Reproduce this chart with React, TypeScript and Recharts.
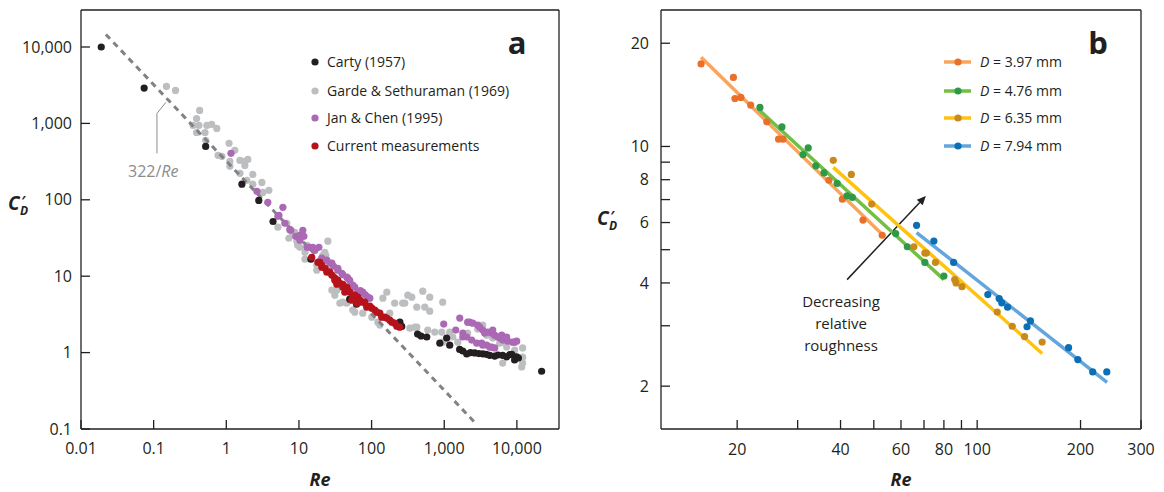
import React from "react";
import { ScatterChart, Scatter, XAxis, YAxis, ReferenceLine } from "recharts";

type Pt = [number, number];

const FONT = "'Open Sans', 'Noto Sans', sans-serif";
const INK = "#231f20";

// panel a: C'D against Re, four data sets
const reTicksA = [0.01, 0.1, 1, 10, 100, 1000, 10000];
const cdTicksA = [0.1, 1, 10, 100, 1000, 10000];

const carty: Pt[] = [
  [0.019, 10000], [0.074, 2900], [0.52, 500], [1.64, 160], [2.8, 98], [4.4, 52], [14.6, 16.7],
  [50, 5.0], [62, 4.3], [245, 2.5], [260, 2.2], [430, 1.75], [480, 1.65], [575, 1.6], [870, 1.33],
  [1080, 1.55], [1190, 1.25], [1630, 1.1], [1800, 1.05], [2040, 0.96], [2300, 1.0], [2630, 0.99],
  [3000, 0.97], [3400, 0.96], [3800, 0.95], [4230, 0.92], [4950, 0.9], [5500, 0.93], [6380, 0.92],
  [7240, 0.88], [8000, 0.94], [8510, 0.95], [9300, 0.8], [9930, 0.88], [10500, 0.85], [21900, 0.57],
];

const garde: Pt[] = [
  [0.15, 3050], [0.2, 2700], [0.43, 1480], [0.39, 1160], [0.35, 940], [0.42, 940], [0.54, 940],
  [0.63, 970], [0.74, 860], [0.39, 760], [0.51, 760], [0.52, 600], [1.09, 550], [1.31, 444],
  [0.77, 382], [0.87, 371], [1.12, 318], [1.12, 274], [1.54, 328], [1.8, 318], [1.98, 338],
  [1.8, 282], [1.54, 222], [2.32, 215], [1.92, 180], [3.09, 169], [2.32, 160], [3.86, 133],
  [3.19, 125], [5.13, 43.8], [6.8, 49], [7.5, 40], [8.8, 37.6], [8.2, 34.3], [7.26, 31.4],
  [9.35, 28.7], [9.6, 25.4], [10.3, 23.9], [25, 28.7], [12.9, 25.4], [12.1, 20.5], [12.1, 16.7],
  [17.6, 12], [17.6, 13.9], [23.4, 18.8], [22.7, 20.5], [21.3, 18.8], [19.4, 14.9], [28.4, 6.56],
  [31.2, 5.64], [33.2, 6.56], [36.6, 4.43], [45.6, 4.43], [40.2, 4.57], [55, 3.6], [58.7, 3.38],
  [75.6, 3.28], [100.7, 2.91], [122, 2.5], [130, 2.29], [143, 5.15], [162, 6.18], [178, 3.28],
  [208, 4.43], [268, 4.43], [286, 4.43], [315, 5.65], [357, 5.31], [419, 3.93], [506, 6.37],
  [632, 5.31], [540, 3.93], [632, 3.49], [953, 4.57], [336, 2.09], [393, 2.15], [419, 2.15],
  [593, 1.97], [740, 1.85], [924, 1.85], [953, 1.37], [1190, 1.85], [1310, 1.6], [1535, 1.37],
  [2100, 1.8], [2890, 2.03], [3390, 2.29], [3850, 1.69], [4650, 1.55], [5800, 1.33], [6380, 1.37],
  [7240, 1.18], [9330, 1.08], [12000, 1.15], [12000, 0.87], [12000, 0.73], [11650, 0.65], [6380, 0.73],
];

const janChen: Pt[] = [
  [1.16, 406], [2.64, 129], [3.73, 92.7], [5.13, 60.8], [6.01, 79.8], [5.3, 62.7], [6.4, 49.3],
  [7.5, 41.1], [9.06, 33.3], [7.74, 39.9], [10.3, 34.3], [11.3, 39.9], [11.7, 33.3], [10.3, 29.6],
  [12.9, 23.9], [15.5, 23.9], [18.8, 23.9], [14.1, 23.9], [16.6, 21.9], [20.6, 17.2], [24.2, 16.2],
  [26.6, 14.8], [28.4, 14.8], [30, 13.5], [34.3, 12.7], [34.3, 12], [38.9, 10.9], [40, 10.5],
  [45.6, 9.7], [47.1, 9.42], [50, 8.8], [55.1, 7.62], [58.7, 7.18], [64.6, 6.18], [70, 6.5],
  [75.6, 6.18], [75.6, 6.0], [82, 5.7], [88.8, 5.31], [94.5, 5.15],
  [984, 2.36], [1635, 2.83], [1440, 1.97], [1800, 1.8], [2100, 2.5], [2240, 2.5], [2470, 2.43],
  [2890, 2.29], [3080, 2.15], [3390, 1.97], [3970, 1.85], [4500, 1.8], [4650, 1.97], [4950, 1.69],
  [5450, 1.6], [5800, 1.55], [6380, 1.6], [6380, 1.46], [7470, 1.41], [8750, 1.37], [9330, 1.37],
  [9930, 1.41], [1800, 1.6], [2040, 1.6], [2390, 1.46], [2800, 1.33], [3280, 1.33], [3390, 1.25],
  [3850, 1.25], [4230, 1.18], [4500, 1.18], [4950, 1.15], [3600, 1.8], [6180, 1.69], [7240, 1.6],
];

const current: Pt[] = [
  [15, 17.7], [18.2, 15.2], [19.4, 15.2], [20.7, 13.1], [20.7, 13.9], [22.7, 12.7], [24.2, 11.3],
  [26.6, 11.3], [28.4, 10.3], [31.2, 9.42], [31.2, 8.87], [33.2, 7.85], [34.3, 8.87], [36.6, 8.09],
  [40.2, 7.85], [40.2, 7.18], [42.8, 6.18], [45.6, 7.18], [47.1, 6.56], [50.1, 6.18], [53.4, 4.85],
  [55.1, 5.65], [58.7, 5.65], [62.5, 4.43], [64.6, 5.31], [68.9, 4.85], [73.3, 4.57], [80.6, 4.57],
  [85.9, 3.93], [94.5, 4.06], [100.7, 3.82], [110.7, 3.6], [118, 3.38], [130, 3.28], [138, 2.91],
  [152, 2.91], [162, 2.83], [178, 2.66], [190, 2.5], [208, 2.43], [222, 2.22], [244, 2.15],
];

const stokesLine: Pt[] = [[0.022, 14600], [2700, 0.119]];
const stokesLeader: Pt[] = [[0.111, 405], [0.111, 1350], [0.1475, 1885]];

// panel b: four cylinder diameters, measured points and fitted lines
const reTicksB = [20, 30, 40, 50, 60, 70, 80, 90, 100, 200, 300];
const reLabelsB = [20, 40, 60, 80, 100, 200, 300];
const cdTicksB = [2, 3, 4, 5, 6, 7, 8, 9, 10, 20];
const cdLabelsB = [2, 4, 6, 8, 10, 20];

const d397: Pt[] = [
  [15.7, 17.4], [19.5, 15.9], [19.7, 13.8], [20.5, 13.9], [21.9, 13.2], [24.4, 11.8], [26.4, 10.5],
  [27.2, 10.5], [37.0, 7.97], [40.5, 7.02], [46.5, 6.1], [52.9, 5.51],
];
const d476: Pt[] = [
  [23.3, 13.0], [27.0, 11.4], [32.2, 9.9], [31.1, 9.47], [33.9, 8.78], [35.8, 8.37], [39.1, 7.8],
  [41.8, 7.18], [43.3, 7.1], [57.9, 5.57], [62.6, 5.1], [70.4, 4.59], [80, 4.19],
];
const d635: Pt[] = [
  [38.1, 9.11], [43, 8.29], [49.3, 6.79], [65.4, 5.1], [70.4, 4.89], [71.1, 4.89], [75.6, 4.59],
  [86, 4.09], [86.8, 4.0], [90.3, 3.9], [114.4, 3.29], [126.5, 2.99], [137.4, 2.79], [154.6, 2.69],
];
const d794: Pt[] = [
  [66.6, 5.89], [74.8, 5.3], [85.4, 4.59], [107.4, 3.7], [115.9, 3.6], [117.9, 3.5], [122.6, 3.4],
  [142.9, 3.1], [139.7, 2.98], [184.6, 2.59], [196.4, 2.39], [217, 2.2], [238.5, 2.2],
];

const fit397: Pt[] = [[15.7, 18.2], [53.2, 5.51]];
const fit476: Pt[] = [[23.2, 12.76], [80, 4.09]];
const fit635: Pt[] = [[38.1, 8.69], [154.6, 2.49]];
const fit794: Pt[] = [[66.6, 5.61], [239, 2.05]];

const roughnessArrow: Pt[] = [[41.8, 4.09], [70.9, 7.17]];

const legendA = ["Carty (1957)", "Garde & Sethuraman (1969)", "Jan & Chen (1995)", "Current measurements"];
const legendB = ["3.97", "4.76", "6.35", "7.94"];

const rows = (pts: Pt[]) => pts.map(([re, cd]) => ({ re, cd }));
const fmt = (v: number) => (v >= 1000 ? v.toLocaleString("en-US") : String(v));

const dot = (fill: string, r = 3.6) => (p: any) => <circle cx={p.cx} cy={p.cy} r={r} fill={fill} />;
const noDot = () => <g />;

const tickStyle = { fill: INK, fontSize: 16, fontFamily: FONT };
const axisLine = { stroke: INK, strokeWidth: 1.3 };

function arrowShape(p: any) {
  const { x1, y1, x2, y2 } = p;
  const a = Math.atan2(y2 - y1, x2 - x1);
  const L = 9, W = 4;
  const bx = x2 - L * Math.cos(a), by = y2 - L * Math.sin(a);
  const px = -Math.sin(a) * W, py = Math.cos(a) * W;
  return (
    <g>
      <line x1={x1} y1={y1} x2={bx} y2={by} stroke={INK} strokeWidth={1.5} />
      <polygon points={`${x2},${y2} ${bx + px},${by + py} ${bx - px},${by - py}`} fill={INK} />
    </g>
  );
}

function PanelA() {
  const dom = [0.01, 38000];
  const ydom = [0.1, 30500];
  return (
    <ScatterChart width={580} height={492} margin={{ top: 10, right: 21, left: 0, bottom: 33 }}>
      <XAxis dataKey="re" type="number" scale="log" domain={dom} allowDataOverflow ticks={reTicksA}
        interval={0} tickFormatter={fmt} tick={tickStyle} tickSize={-9} tickMargin={23}
        height={30} axisLine={axisLine} tickLine={axisLine} />
      <XAxis xAxisId="top" orientation="top" mirror dataKey="re" type="number" scale="log" domain={dom}
        allowDataOverflow ticks={reTicksA} interval={0} tick={false} tickSize={9} axisLine={axisLine} tickLine={axisLine} />
      <YAxis dataKey="cd" type="number" scale="log" domain={ydom} allowDataOverflow ticks={cdTicksA}
        interval={0} tickFormatter={fmt} tick={tickStyle} tickSize={-9} tickMargin={18}
        width={81} axisLine={axisLine} tickLine={axisLine} />
      <YAxis yAxisId="right" orientation="right" mirror dataKey="cd" type="number" scale="log" domain={ydom}
        allowDataOverflow ticks={cdTicksA} interval={0} tick={false} tickSize={9} axisLine={axisLine} tickLine={axisLine} />
      <Scatter data={rows(garde)} shape={dot("#bcbec0")} isAnimationActive={false} />
      <Scatter data={rows(stokesLine)} shape={noDot} line={{ stroke: "#808285", strokeWidth: 3, strokeDasharray: "6 5" }} isAnimationActive={false} />
      <Scatter data={rows(stokesLeader)} shape={noDot} line={{ stroke: "#8a8c8e", strokeWidth: 1 }} isAnimationActive={false} />
      <Scatter data={rows(janChen)} shape={dot("#ab68b4")} isAnimationActive={false} />
      <Scatter data={rows(carty)} shape={dot(INK)} isAnimationActive={false} />
      <Scatter data={rows(current)} shape={dot("#b5121b")} isAnimationActive={false} />
    </ScatterChart>
  );
}

function PanelB() {
  const dom = [12, 300];
  const ydom = [1.5, 25];
  const lines: [Pt[], string][] = [[fit397, "#f9a55c"], [fit476, "#72bf44"], [fit635, "#ffc20e"], [fit794, "#62a6dd"]];
  const pts: [Pt[], string][] = [[d397, "#e8702a"], [d476, "#2e9a47"], [d635, "#c98a1d"], [d794, "#0b6fb6"]];
  return (
    <ScatterChart width={584} height={492} margin={{ top: 10, right: 23, left: 0, bottom: 33 }}>
      <XAxis dataKey="re" type="number" scale="log" domain={dom} allowDataOverflow ticks={reTicksB}
        interval={0} tickFormatter={(v: number) => (reLabelsB.includes(v) ? String(v) : "")} tick={tickStyle}
        tickSize={-9} tickMargin={24} height={30} axisLine={axisLine} tickLine={axisLine} />
      <XAxis xAxisId="top" orientation="top" mirror dataKey="re" type="number" scale="log" domain={dom}
        allowDataOverflow ticks={reTicksB} interval={0} tick={false} tickSize={9} axisLine={axisLine} tickLine={axisLine} />
      <YAxis dataKey="cd" type="number" scale="log" domain={ydom} allowDataOverflow ticks={cdTicksB}
        interval={0} tickFormatter={(v: number) => (cdLabelsB.includes(v) ? String(v) : "")} tick={tickStyle}
        tickSize={-9} tickMargin={21} width={81} axisLine={axisLine} tickLine={axisLine} />
      <YAxis yAxisId="right" orientation="right" mirror dataKey="cd" type="number" scale="log" domain={ydom}
        allowDataOverflow ticks={cdTicksB} interval={0} tick={false} tickSize={9} axisLine={axisLine} tickLine={axisLine} />
      {lines.map(([d, c], i) => (
        <Scatter key={"l" + i} data={rows(d)} shape={noDot} line={{ stroke: c, strokeWidth: 3.5 }} isAnimationActive={false} />
      ))}
      <ReferenceLine segment={[{ x: roughnessArrow[0][0], y: roughnessArrow[0][1] }, { x: roughnessArrow[1][0], y: roughnessArrow[1][1] }]}
        ifOverflow="visible" shape={arrowShape} />
      {pts.map(([d, c], i) => (
        <Scatter key={"p" + i} data={rows(d)} shape={dot(c)} isAnimationActive={false} />
      ))}
    </ScatterChart>
  );
}

function CD({ x, y }: { x: number; y: number }) {
  return (
    <g fontFamily={FONT} fontWeight={700} fontStyle="italic" fill={INK}>
      <text x={x} y={y} fontSize={19}>C</text>
      <text x={x + 13} y={y - 4} fontSize={14}>′</text>
      <text x={x + 12} y={y + 5} fontSize={12}>D</text>
    </g>
  );
}

export default function App() {
  const aColors = [INK, "#bcbec0", "#ab68b4", "#b5121b"];
  const bLine = ["#f9a55c", "#72bf44", "#ffc20e", "#62a6dd"];
  const bDot = ["#e8702a", "#2e9a47", "#c98a1d", "#0b6fb6"];
  const rowY = [62, 91, 118, 146];
  return (
    <div style={{ position: "absolute", left: 0, top: 0, width: 1164, height: 492, background: "#fff", fontFamily: FONT }}>
      <div style={{ position: "absolute", left: 0, top: 0 }}><PanelA /></div>
      <div style={{ position: "absolute", left: 580, top: 0 }}><PanelB /></div>
      <svg width={1164} height={492} style={{ position: "absolute", left: 0, top: 0, pointerEvents: "none" }}>
        <text x={517} y={54} textAnchor="middle" fontFamily={FONT} fontWeight={700} fontSize={31} fill={INK}>a</text>
        <text x={1098} y={54} textAnchor="middle" fontFamily={FONT} fontWeight={700} fontSize={31} fill={INK}>b</text>
        {legendA.map((t, i) => (
          <g key={t}>
            <circle cx={315} cy={rowY[i]} r={3.6} fill={aColors[i]} />
            <text x={327} y={rowY[i] + 5} fontFamily={FONT} fontSize={14} fill={INK}>{t}</text>
          </g>
        ))}
        {legendB.map((t, i) => (
          <g key={t}>
            <line x1={944} x2={971} y1={rowY[i]} y2={rowY[i]} stroke={bLine[i]} strokeWidth={3.5} />
            <circle cx={958} cy={rowY[i]} r={3.6} fill={bDot[i]} />
            <text x={980} y={rowY[i] + 5} fontFamily={FONT} fontSize={14} fill={INK}>
              <tspan fontStyle="italic">D</tspan> = {t} mm
            </text>
          </g>
        ))}
        <text x={128} y={177} fontFamily={FONT} fontSize={16} fill="#8a8c8e">
          322/<tspan fontStyle="italic">Re</tspan>
        </text>
        <text textAnchor="middle" fontFamily={FONT} fontSize={15} fill={INK}>
          <tspan x={841} y={307}>Decreasing</tspan>
          <tspan x={841} y={329}>relative</tspan>
          <tspan x={841} y={351}>roughness</tspan>
        </text>
        <CD x={8} y={210} />
        <CD x={597} y={225} />
        <text x={320} y={486} textAnchor="middle" fontFamily={FONT} fontWeight={700} fontStyle="italic" fontSize={18} fill={INK}>Re</text>
        <text x={901} y={486} textAnchor="middle" fontFamily={FONT} fontWeight={700} fontStyle="italic" fontSize={18} fill={INK}>Re</text>
      </svg>
    </div>
  );
}
